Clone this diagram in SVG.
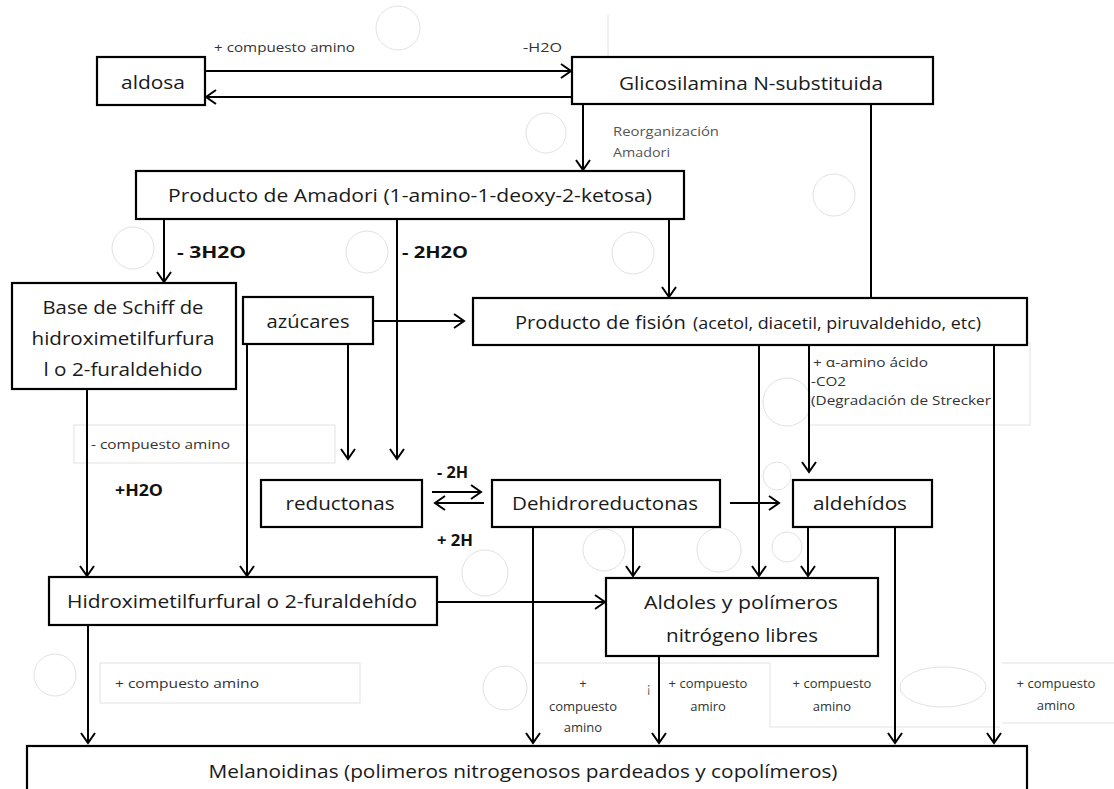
<svg xmlns="http://www.w3.org/2000/svg" width="1114" height="789" viewBox="0 0 1114 789">
<defs>
<marker id="ah" markerWidth="16" markerHeight="16" refX="11" refY="8" orient="auto" markerUnits="userSpaceOnUse">
<path d="M1,1 L11,8 L1,15" fill="none" stroke="#000" stroke-width="2"/>
</marker>
<style>
.box{fill:#fff;stroke:#000;stroke-width:2.2}
.t{font-family:"Open Sans","Noto Sans",sans-serif;font-size:19px;fill:#1a1a1a;text-anchor:middle}
.s{font-family:"Open Sans","Noto Sans",sans-serif;font-size:13px;fill:#333}
.sc{font-family:"Open Sans","Noto Sans",sans-serif;font-size:13px;fill:#333;text-anchor:middle}
.b{font-family:"Open Sans","Noto Sans",sans-serif;font-size:16px;font-weight:bold;fill:#111}
.c{fill:none;stroke:#000;stroke-width:2}
.c path{marker-end:url(#ah)}
.f{fill:none;stroke:#e2e2e2;stroke-width:1}
</style>
</defs>
<rect width="1114" height="789" fill="#fff"/>

<g id="faint">
<circle class="f" cx="398" cy="28" r="22"/>
<circle class="f" cx="546" cy="133" r="20"/>
<circle class="f" cx="834" cy="195" r="21"/>
<circle class="f" cx="133" cy="248" r="21"/>
<circle class="f" cx="367" cy="252" r="21"/>
<circle class="f" cx="633" cy="253" r="21"/>
<circle class="f" cx="787" cy="402" r="24"/>
<circle class="f" cx="777" cy="476" r="14"/>
<circle class="f" cx="604" cy="550" r="21"/>
<circle class="f" cx="719" cy="550" r="22"/>
<circle class="f" cx="787" cy="547" r="15"/>
<circle class="f" cx="485" cy="573" r="23"/>
<circle class="f" cx="55" cy="675" r="21"/>
<circle class="f" cx="505" cy="688" r="22"/>
<ellipse class="f" cx="943" cy="687" rx="43" ry="20"/>
<path class="f" d="M608,15 V57"/>
<rect class="f" x="809" y="343" width="221" height="82"/>
<rect class="f" x="74" y="425" width="261" height="38"/>
<rect class="f" x="100" y="663" width="260" height="40"/>
<path class="f" d="M533,663 H770 V727 H1000 M1002,663 H1114 M1002,723 H1114"/>
</g>

<g id="connectors" class="c">
<path d="M205,71 H571"/>
<path d="M572,97 H206"/>
<path d="M583,104 V170"/>
<path d="M871,104 V298" style="marker-end:none"/>
<path d="M164,219 V282"/>
<path d="M397,219 V459"/>
<path d="M669,219 V297"/>
<path d="M373,321 H464"/>
<path d="M247,344 V576"/>
<path d="M348,344 V459"/>
<path d="M87,389 V576"/>
<path d="M759,345 V576"/>
<path d="M809,345 V472"/>
<path d="M994,345 V743"/>
<path d="M432,492 H481"/>
<path d="M484,503 H435"/>
<path d="M730,503 H779"/>
<path d="M533,527 V743"/>
<path d="M633,527 V576"/>
<path d="M808,527 V576"/>
<path d="M895,527 V743"/>
<path d="M437,602 H605"/>
<path d="M88,625 V743"/>
<path d="M659,656 V743"/>
</g>

<g id="labels">
<text class="s" x="214" y="52" textLength="141" lengthAdjust="spacingAndGlyphs">+ compuesto amino</text>
<text class="s" x="523" y="52" textLength="39" lengthAdjust="spacingAndGlyphs">-H2O</text>
<text class="s" x="613" y="136" textLength="106" lengthAdjust="spacingAndGlyphs" style="fill:#555">Reorganización</text>
<text class="s" x="613" y="157" textLength="57" lengthAdjust="spacingAndGlyphs" style="fill:#555">Amadori</text>
<text class="b" x="177" y="258" textLength="69" lengthAdjust="spacingAndGlyphs">- 3H2O</text>
<text class="b" x="402" y="258" textLength="66" lengthAdjust="spacingAndGlyphs">- 2H2O</text>
<text class="s" x="813" y="367" textLength="115" lengthAdjust="spacingAndGlyphs">+ α-amino ácido</text>
<text class="s" x="811" y="386" textLength="35" lengthAdjust="spacingAndGlyphs">-CO2</text>
<text class="s" x="811" y="405" textLength="180" lengthAdjust="spacingAndGlyphs">(Degradación de Strecker</text>
<text class="s" x="91" y="449" textLength="139" lengthAdjust="spacingAndGlyphs">- compuesto  amino</text>
<text class="b" x="115" y="496" textLength="48" lengthAdjust="spacingAndGlyphs">+H2O</text>
<text class="b" x="437" y="478" textLength="31" lengthAdjust="spacingAndGlyphs">- 2H</text>
<text class="b" x="437" y="546" textLength="36" lengthAdjust="spacingAndGlyphs">+ 2H</text>
<text class="s" x="115" y="688" textLength="144" lengthAdjust="spacingAndGlyphs">+ compuesto  amino</text>
<text class="sc" x="583" y="688">+</text>
<text class="sc" x="583" y="711">compuesto</text>
<text class="sc" x="583" y="732">amino</text>
<text class="s" x="647" y="692" style="fill:#666">¡</text>
<text class="sc" x="708" y="688">+ compuesto</text>
<text class="sc" x="708" y="711">amiro</text>
<text class="sc" x="832" y="688">+ compuesto</text>
<text class="sc" x="832" y="711">amino</text>
<text class="sc" x="1056" y="688">+ compuesto</text>
<text class="sc" x="1056" y="710">amino</text>
</g>

<g id="aldosa">
<rect class="box" x="97" y="57" width="108" height="48"/>
<text class="t" x="153" y="89" textLength="64" lengthAdjust="spacingAndGlyphs">aldosa</text>
</g>
<g id="glicosilamina">
<rect class="box" x="572" y="57" width="361" height="47"/>
<text class="t" x="751" y="90" textLength="264" lengthAdjust="spacingAndGlyphs">Glicosilamina N-substituida</text>
</g>
<g id="amadori">
<rect class="box" x="136" y="171" width="548" height="48"/>
<text class="t" x="410" y="202" textLength="484" lengthAdjust="spacingAndGlyphs">Producto de Amadori (1-amino-1-deoxy-2-ketosa)</text>
</g>
<g id="schiff">
<rect class="box" x="12" y="283" width="224" height="106"/>
<text class="t" x="123" y="314" textLength="161" lengthAdjust="spacingAndGlyphs">Base de Schiff de</text>
<text class="t" x="123" y="345" textLength="183" lengthAdjust="spacingAndGlyphs">hidroximetilfurfura</text>
<text class="t" x="123" y="376" textLength="159" lengthAdjust="spacingAndGlyphs">l o 2-furaldehido</text>
</g>
<g id="azucares">
<rect class="box" x="243" y="297" width="130" height="47"/>
<text class="t" x="308" y="328" textLength="83" lengthAdjust="spacingAndGlyphs">azúcares</text>
</g>
<g id="fision">
<rect class="box" x="473" y="298" width="554" height="47"/>
<text class="t" x="515" y="329" style="text-anchor:start"><tspan textLength="176" lengthAdjust="spacingAndGlyphs">Producto de fisión </tspan><tspan x="693" font-size="16" textLength="288" lengthAdjust="spacingAndGlyphs">(acetol, diacetil, piruvaldehido, etc)</tspan></text>
</g>
<g id="reductonas">
<rect class="box" x="261" y="480" width="161" height="47"/>
<text class="t" x="340" y="510" textLength="109" lengthAdjust="spacingAndGlyphs">reductonas</text>
</g>
<g id="dehidroreductonas">
<rect class="box" x="492" y="480" width="228" height="47"/>
<text class="t" x="605" y="510" textLength="186" lengthAdjust="spacingAndGlyphs">Dehidroreductonas</text>
</g>
<g id="aldehidos">
<rect class="box" x="793" y="480" width="139" height="47"/>
<text class="t" x="860" y="510" textLength="94" lengthAdjust="spacingAndGlyphs">aldehídos</text>
</g>
<g id="hidroximetilfurfural">
<rect class="box" x="49" y="577" width="388" height="48"/>
<text class="t" x="242" y="608" textLength="350" lengthAdjust="spacingAndGlyphs">Hidroximetilfurfural o 2-furaldehído</text>
</g>
<g id="aldoles">
<rect class="box" x="606" y="578" width="272" height="78"/>
<text class="t" x="741" y="609" textLength="194" lengthAdjust="spacingAndGlyphs">Aldoles  y polímeros</text>
<text class="t" x="742" y="642" textLength="152" lengthAdjust="spacingAndGlyphs">nitrógeno libres</text>
</g>
<g id="melanoidinas">
<rect class="box" x="27" y="746" width="1000" height="60"/>
<text class="t" x="523" y="778" textLength="629" lengthAdjust="spacingAndGlyphs">Melanoidinas (polimeros nitrogenosos pardeados y copolímeros)</text>
</g>
</svg>
